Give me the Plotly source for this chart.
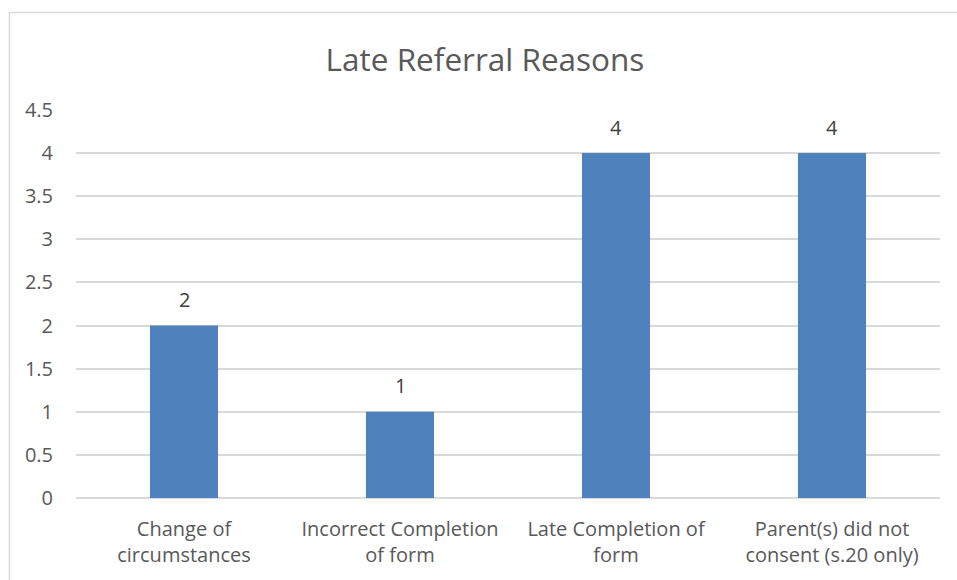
import plotly.graph_objects as go

# Late referral reasons – counts per category
categories = [
    "Change of<br>circumstances",
    "Incorrect Completion<br>of form",
    "Late Completion of<br>form",
    "Parent(s) did not<br>consent (s.20 only)",
]
counts = [2, 1, 4, 4]
y_ticks = [0, 0.5, 1, 1.5, 2, 2.5, 3, 3.5, 4, 4.5]
y_tick_labels = ["0", "0.5", "1", "1.5", "2", "2.5", "3", "3.5", "4", "4.5"]

FONT = "Open Sans"
TEXT_COLOR = "#595959"
GRID_COLOR = "#d9d9d9"
BAR_COLOR = "#4f81bd"

W, H = 957, 580
ML, MR, MT, MB = 76, 17, 110, 82
PW, PH = W - ML - MR, H - MT - MB

fig = go.Figure(
    go.Bar(
        x=categories,
        y=counts,
        marker=dict(color=BAR_COLOR, line=dict(width=0)),
        width=0.315,
        hoverinfo="x+y",
    )
)

# value labels above each bar
for cat, val in zip(categories, counts):
    fig.add_annotation(
        x=cat, y=val, text=str(val), showarrow=False,
        yanchor="middle", yshift=26,
        font=dict(family=FONT, size=20, color="#404040"),
    )

# outer chart border (left and top edges visible)
fig.add_shape(
    type="rect", xref="paper", yref="paper",
    x0=(9.5 - ML) / PW, x1=(W + 5 - ML) / PW,
    y0=-(MB + 5) / PH, y1=1 + (MT - 12.5) / PH,
    line=dict(color="#d9d9d9", width=1.5),
    fillcolor="rgba(0,0,0,0)", layer="below",
)

fig.update_layout(
    width=W, height=H,
    margin=dict(l=ML, r=MR, t=MT, b=MB),
    paper_bgcolor="white", plot_bgcolor="white",
    title=dict(
        text="Late Referral Reasons",
        x=485 / W, xref="container", xanchor="center",
        y=1 - 60 / H, yref="container", yanchor="middle",
        font=dict(family=FONT, size=31.5, color=TEXT_COLOR),
    ),
    showlegend=False,
    bargap=0.685,
)

fig.update_xaxes(
    showgrid=False, showline=False, zeroline=False,
    tickfont=dict(family=FONT, size=20, color=TEXT_COLOR),
    ticks="", ticklabelstandoff=17,
)
fig.update_yaxes(
    range=[0, 4.5],
    tickvals=y_ticks, ticktext=y_tick_labels,
    showgrid=True, gridcolor=GRID_COLOR, gridwidth=1.5,
    zeroline=True, zerolinecolor=GRID_COLOR, zerolinewidth=1.5,
    showline=False, ticks="",
    tickfont=dict(family=FONT, size=20, color=TEXT_COLOR),
    ticklabelstandoff=22,
)

fig.write_html("out.html")
